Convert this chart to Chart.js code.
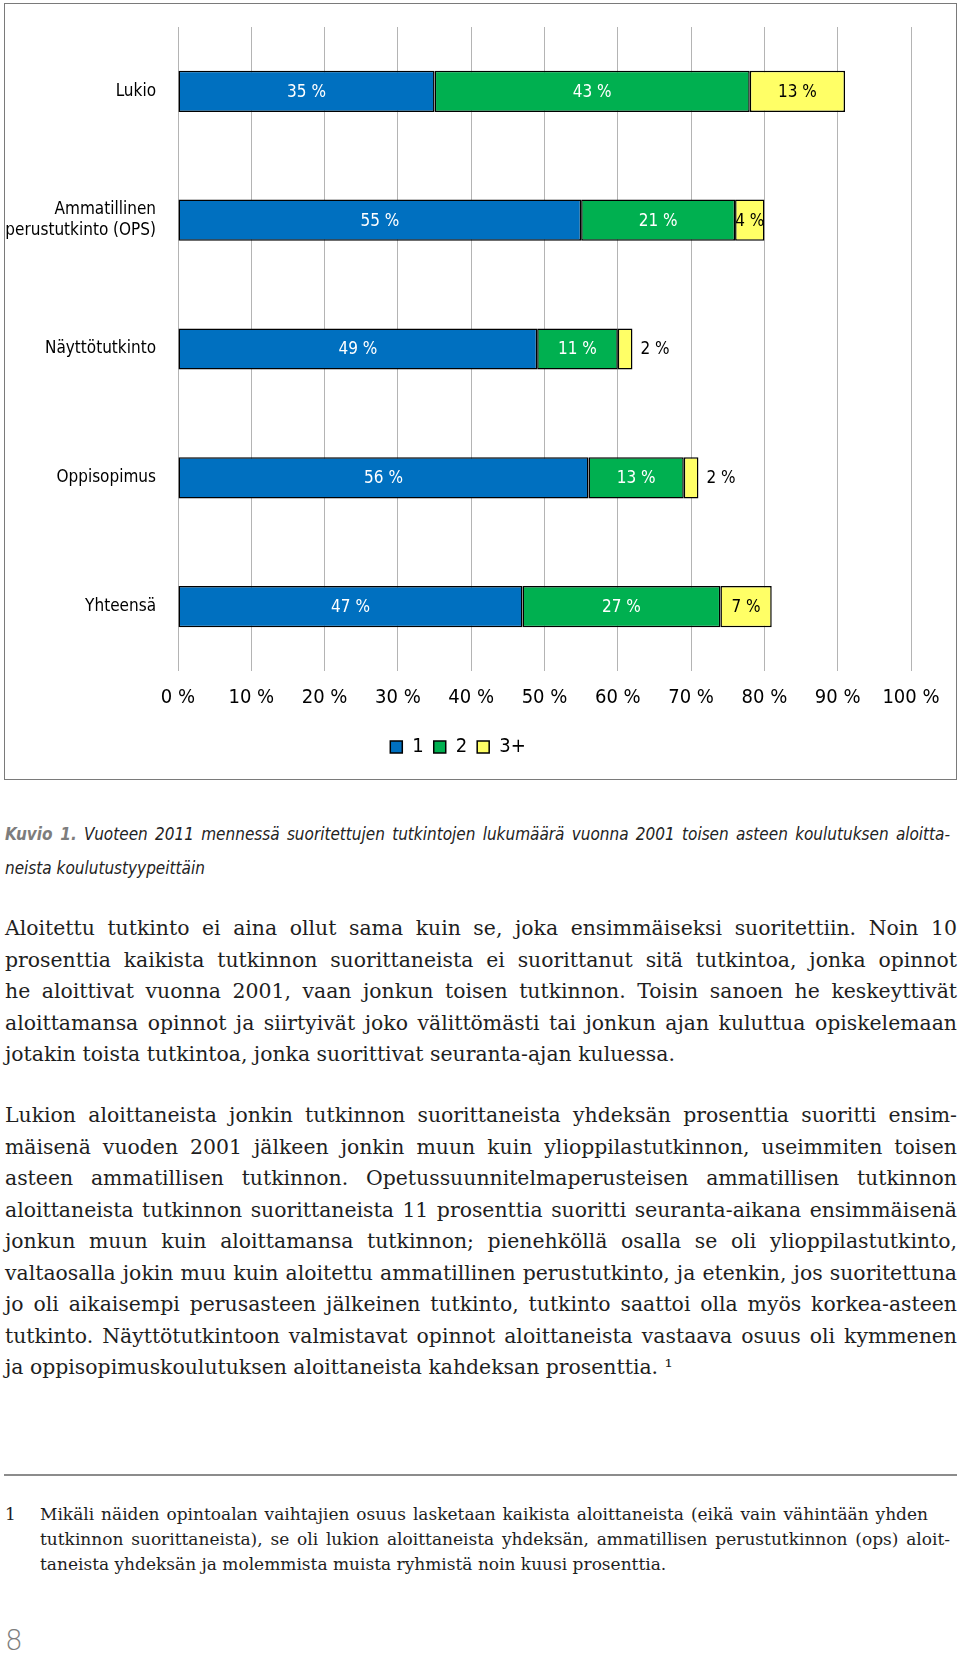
<!DOCTYPE html>
<html lang="fi">
<head>
<meta charset="utf-8">
<script src="https://cdn.jsdelivr.net/npm/chart.js@4"></script>
<style>
  html, body { margin: 0; padding: 0; background: #fff; }
  body { position: relative; width: 960px; height: 1657px; overflow: hidden; }
  #chartBox {
    position: absolute; left: 4px; top: 3px; width: 953px; height: 777px;
    box-sizing: border-box; border: 1.5px solid #7a7a7a;
  }
  #chartBox canvas { display: block; }
  .caption {
    position: absolute; left: 5px; top: 817px; width: 945px;
    font-family: "DejaVu Sans Condensed", "DejaVu Sans", sans-serif;
    font-stretch: condensed; font-style: italic; font-size: 17px; line-height: 34px; color: #222;
  }
  .caption b { color: #7d7d7d; font-weight: bold; }
  .para {
    position: absolute; left: 5px; width: 952px;
    font-family: "DejaVu Serif", "Liberation Serif", serif;
    font-size: 20.4px; line-height: 31.5px; color: #1e1e1e;
  }
  .j { text-align: justify; text-align-last: justify; white-space: nowrap; }
  .l { text-align: left; white-space: nowrap; }
  #rule { position: absolute; left: 4px; top: 1474px; width: 953px; height: 2px; background: #8c8c8c; }
  .foot {
    position: absolute; left: 5px; top: 1502px; width: 950px;
    font-family: "DejaVu Serif", "Liberation Serif", serif; font-size: 17px; line-height: 25px; color: #1e1e1e;
  }
  .foot .num { position: absolute; left: 0; top: 0; }
  .foot .txt { position: absolute; left: 35px; top: 0; }
  #page { position: absolute; left: 5px; top: 1624px; font-family: "DejaVu Sans", sans-serif; font-weight: 200; font-size: 28px; color: #7d7d7d; }
</style>
</head>
<body>
<div id="chartBox"><canvas id="chart"></canvas></div>

<div class="caption">
  <div class="j"><b>Kuvio 1.</b> Vuoteen 2011 mennessä suoritettujen tutkintojen lukumäärä vuonna 2001 toisen asteen koulutuksen aloitta-</div>
  <div class="l">neista koulutustyypeittäin</div>
</div>

<div class="para" style="top: 913px;">
  <div class="j">Aloitettu tutkinto ei aina ollut sama kuin se, joka ensimmäiseksi suoritettiin. Noin 10</div>
  <div class="j">prosenttia kaikista tutkinnon suorittaneista ei suorittanut sitä tutkintoa, jonka opinnot</div>
  <div class="j">he aloittivat vuonna 2001, vaan jonkun toisen tutkinnon. Toisin sanoen he keskeyttivät</div>
  <div class="j">aloittamansa opinnot ja siirtyivät joko välittömästi tai jonkun ajan kuluttua opiskelemaan</div>
  <div class="l">jotakin toista tutkintoa, jonka suorittivat seuranta-ajan kuluessa.</div>
</div>

<div class="para" style="top: 1100px;">
  <div class="j">Lukion aloittaneista jonkin tutkinnon suorittaneista yhdeksän prosenttia suoritti ensim-</div>
  <div class="j">mäisenä vuoden 2001 jälkeen jonkin muun kuin ylioppilastutkinnon, useimmiten toisen</div>
  <div class="j">asteen ammatillisen tutkinnon. Opetussuunnitelmaperusteisen ammatillisen tutkinnon</div>
  <div class="j">aloittaneista tutkinnon suorittaneista 11 prosenttia suoritti seuranta-aikana ensimmäisenä</div>
  <div class="j">jonkun muun kuin aloittamansa tutkinnon; pienehköllä osalla se oli ylioppilastutkinto,</div>
  <div class="j">valtaosalla jokin muu kuin aloitettu ammatillinen perustutkinto, ja etenkin, jos suoritettuna</div>
  <div class="j">jo oli aikaisempi perusasteen jälkeinen tutkinto, tutkinto saattoi olla myös korkea-asteen</div>
  <div class="j">tutkinto. Näyttötutkintoon valmistavat opinnot aloittaneista vastaava osuus oli kymmenen</div>
  <div class="l">ja oppisopimuskoulutuksen aloittaneista kahdeksan prosenttia. ¹</div>
</div>

<div id="rule"></div>
<div class="foot">
  <div class="num">1</div>
  <div class="txt">
    <div class="j" style="width: 888px;">Mikäli näiden opintoalan vaihtajien osuus lasketaan kaikista aloittaneista (eikä vain vähintään yhden</div>
    <div class="j" style="width: 910px;">tutkinnon suorittaneista), se oli lukion aloittaneista yhdeksän, ammatillisen perustutkinnon (ops) aloit-</div>
    <div class="l">taneista yhdeksän ja molemmista muista ryhmistä noin kuusi prosenttia.</div>
  </div>
</div>
<div id="page">8</div>

<script>
// kategoriat ja osuudet (%), luettu kuvasta
const categories = ['Lukio', ['Ammatillinen', 'perustutkinto (OPS)'], 'Näyttötutkinto', 'Oppisopimus', 'Yhteensä'];
const seriesNames = ['1', '2', '3+'];
const share1 = [35, 55, 49, 56, 47];
const share2 = [43, 21, 11, 13, 27];
const share3 = [13, 4, 2, 2, 7];
const xTicks = [0, 10, 20, 30, 40, 50, 60, 70, 80, 90, 100];

const seriesColors = ['#0070C0', '#00B050', '#FFFF66'];
const labelColors = ['#ffffff', '#ffffff', '#000000'];
const narrowFont = '"DejaVu Sans Condensed", "DejaVu Sans", sans-serif';

// prosenttiluvut palkkien päälle
const barLabels = {
    id: 'barLabels',
    afterDatasetsDraw(chart) {
        const ctx = chart.ctx;
        ctx.save();
        ctx.font = '17px ' + narrowFont;
        ctx.textBaseline = 'middle';
        chart.data.datasets.forEach((ds, i) => {
            const meta = chart.getDatasetMeta(i);
            meta.data.forEach((bar, j) => {
                const v = ds.data[j];
                const txt = v + ' %';
                if (v < 3) {
                    // liian kapea: teksti palkin oikealle puolelle
                    ctx.textAlign = 'left';
                    ctx.fillStyle = '#000';
                    ctx.fillText(txt, bar.x + 8, bar.y + 1);
                } else {
                    ctx.textAlign = 'center';
                    ctx.fillStyle = labelColors[i];
                    ctx.fillText(txt, (bar.x + bar.base) / 2, bar.y + 1);
                }
            });
        });
        ctx.restore();
    }
};

const datasets = [share1, share2, share3].map((values, i) => ({
    label: seriesNames[i],
    data: values,
    backgroundColor: seriesColors[i],
    borderColor: '#000',
    borderWidth: 1.5,
    borderSkipped: false,
    barPercentage: 0.32,
    categoryPercentage: 1
}));

const ctx = document.getElementById('chart').getContext('2d');
new Chart(ctx, {
    type: 'bar',
    data: { labels: categories, datasets: datasets },
    plugins: [barLabels],
    options: {
        indexAxis: 'y',
        responsive: true,
        maintainAspectRatio: false,
        animation: false,
        layout: { padding: { top: 23, right: 45, bottom: 12, left: 0 } },
        scales: {
            x: {
                stacked: true,
                min: 0,
                max: 100,
                afterBuildTicks: axis => { axis.ticks = xTicks.map(v => ({ value: v })); },
                afterFit: axis => { axis.height = 56; },
                grid: { color: '#b4b4b4', lineWidth: 1, drawTicks: false },
                border: { display: false },
                ticks: {
                    padding: 15,
                    color: '#000',
                    font: { family: narrowFont, size: 20 },
                    callback: v => v + ' %'
                }
            },
            y: {
                stacked: true,
                afterFit: axis => {
                    axis.width = 173;
                    axis.paddingTop = 0;
                    axis.paddingBottom = 0;
                },
                grid: { display: false, drawTicks: false },
                border: { display: false },
                ticks: {
                    padding: 22,
                    color: '#000',
                    font: { family: narrowFont, size: 17 }
                }
            }
        },
        plugins: {
            legend: {
                position: 'bottom',
                labels: {
                    boxWidth: 12,
                    boxHeight: 12,
                    padding: 10,
                    color: '#000',
                    font: { family: narrowFont, size: 20 }
                }
            },
            tooltip: { enabled: false }
        }
    }
});
</script>
</body>
</html>
